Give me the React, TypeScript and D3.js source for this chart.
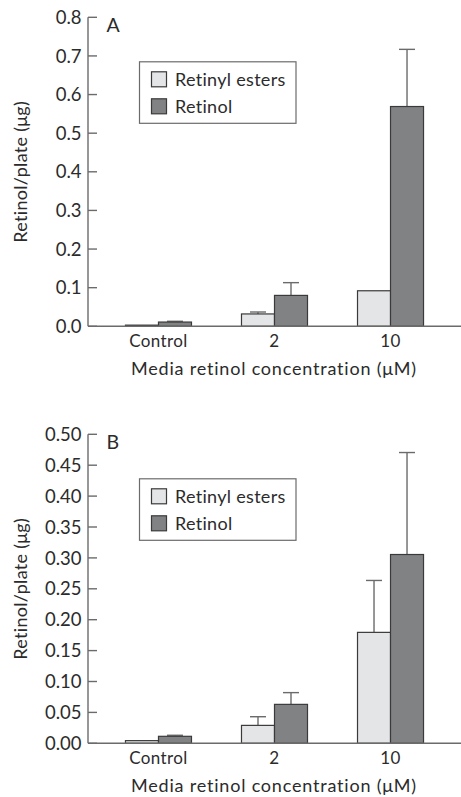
import React, { useEffect } from 'react';
import * as d3 from 'd3';

const W = 461, H = 797;

const groups = ['Control', '2', '10'];
const seriesNames = ['Retinyl esters', 'Retinol'];
const seriesColors = ['#e4e5e7', '#818284'];

// panel A
const aEsters = [0.003, 0.032, 0.092];
const aEstersErr = [0.004, 0.037, 0.092];
const aRetinol = [0.011, 0.080, 0.569];
const aRetinolErr = [0.013, 0.113, 0.717];
const aTicks = [0, 0.1, 0.2, 0.3, 0.4, 0.5, 0.6, 0.7, 0.8];

// panel B
const bEsters = [0.0043, 0.029, 0.1795];
const bEstersErr = [0.0045, 0.043, 0.2635];
const bRetinol = [0.0113, 0.063, 0.3055];
const bRetinolErr = [0.013, 0.082, 0.4705];
const bTicks = [0, 0.05, 0.1, 0.15, 0.2, 0.25, 0.3, 0.35, 0.4, 0.45, 0.5];

const FONT = 'Lato, "DejaVu Sans", sans-serif';
const INK = '#2b2b2b';
const AXIS = '#6b6b6b';

const left = 88, right = 461;

function Panel({ top, letter, yMax, ticks, fmt, values, errs }) {
  const plotH = 309;
  const y = d3.scaleLinear().domain([0, yMax]).range([top + plotH, top]);
  const x = d3.scaleBand().domain(groups).range([left, right]).paddingInner(0.431).paddingOuter(0.323);
  const xs = d3.scaleBand().domain(seriesNames).range([0, x.bandwidth()]);
  const base = y(0);

  return (
    <g>
      {/* bars */}
      {seriesNames.map((s, si) =>
        groups.map((g, gi) => {
          const v = values[si][gi];
          const bx = x(g) + xs(s);
          const cx = bx + xs.bandwidth() / 2;
          const e = errs[si][gi];
          return (
            <g key={s + g}>
              {e > v + 0.001 && (
                <g stroke={AXIS} strokeWidth={1.4}>
                  <line x1={cx} x2={cx} y1={y(v)} y2={y(e)} />
                  <line x1={cx - 8} x2={cx + 8} y1={y(e)} y2={y(e)} />
                </g>
              )}
              <rect x={bx} y={y(v)} width={xs.bandwidth()} height={base - y(v)}
                fill={seriesColors[si]} stroke="#3a3a3a" strokeWidth={1.2} />
            </g>
          );
        })
      )}
      {/* axes */}
      <line x1={left} x2={left} y1={top} y2={base} stroke={AXIS} strokeWidth={1.4} />
      <line x1={left} x2={right} y1={base} y2={base} stroke={AXIS} strokeWidth={1.4} />
      {ticks.map((t) => (
        <g key={t}>
          <line x1={left} x2={left + 9} y1={y(t)} y2={y(t)} stroke={AXIS} strokeWidth={1.4} />
          <text x={left - 6.5} y={y(t)} dy="0.36em" textAnchor="end" fontSize={18.5} fill={INK} fontFamily={FONT}>
            {fmt(t)}
          </text>
        </g>
      ))}
      {groups.map((g) => (
        <text key={g} x={x(g) + x.bandwidth() / 2} y={base + 21} textAnchor="middle" fontSize={17}
          letterSpacing={0.4} fill={INK} fontFamily={FONT}>
          {g}
        </text>
      ))}
      <text x={274} y={base + 49} textAnchor="middle" fontSize={18} letterSpacing={0.8} fill={INK} fontFamily={FONT}>
        Media retinol concentration (μM)
      </text>
      <text transform={`translate(27,${top + plotH / 2}) rotate(-90)`} textAnchor="middle" fontSize={18}
        letterSpacing={0.3} fill={INK} fontFamily={FONT}>
        Retinol/plate (μg)
      </text>
      <text x={106.5} y={top + 15} fontSize={19.5} fill={INK} fontFamily={FONT}>{letter}</text>
      {/* legend */}
      <g transform={`translate(139.5,${top + 44.5})`}>
        <rect width={156.5} height={61.5} fill="#fff" stroke={AXIS} strokeWidth={1.2} />
        {seriesNames.map((s, i) => (
          <g key={s} transform={`translate(12,${10 + i * 27})`}>
            <rect width={15} height={15} fill={seriesColors[i]} stroke="#3a3a3a" strokeWidth={1.2} />
            <text x={23.5} y={7.5} dy="0.36em" fontSize={18} letterSpacing={0.3} fill={INK} fontFamily={FONT}>{s}</text>
          </g>
        ))}
      </g>
    </g>
  );
}

export default function App() {
  useEffect(() => {
    document.body.style.margin = '0';
  }, []);
  return (
    <svg width={W} height={H} style={{ display: 'block', background: '#fff' }}>
      <Panel top={17.3} letter="A" yMax={0.8} ticks={aTicks} fmt={d3.format('.1f')}
        values={[aEsters, aRetinol]} errs={[aEstersErr, aRetinolErr]} />
      <Panel top={434.3} letter="B" yMax={0.5} ticks={bTicks} fmt={d3.format('.2f')}
        values={[bEsters, bRetinol]} errs={[bEstersErr, bRetinolErr]} />
    </svg>
  );
}
